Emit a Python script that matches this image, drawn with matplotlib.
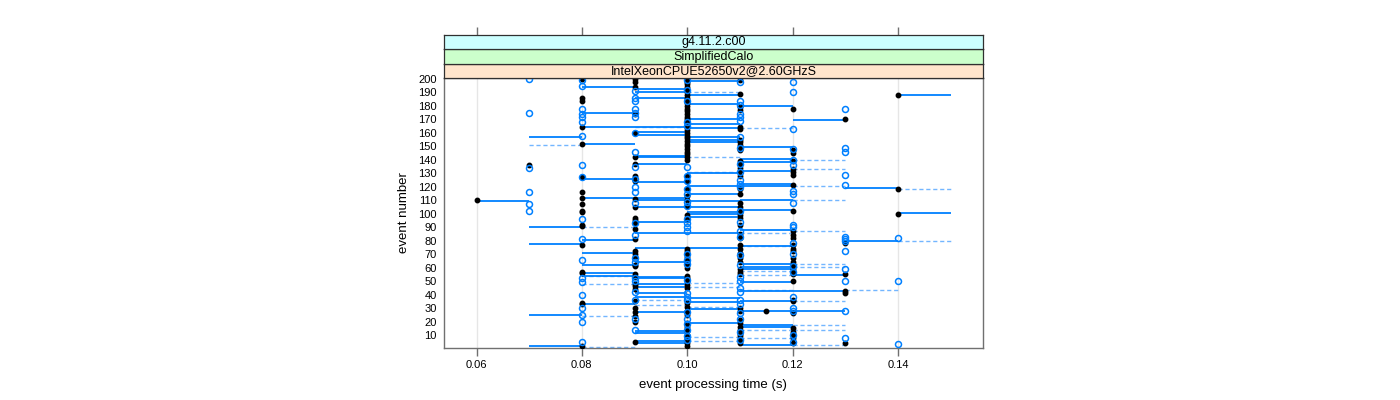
import matplotlib
matplotlib.use('Agg')
import matplotlib.pyplot as plt

plt.rcParams['font.family'] = ['Liberation Sans', 'DejaVu Sans']

# ---------------- data ----------------
x_ticks = [0.06, 0.08, 0.10, 0.12, 0.14]
x_tick_labels = ['0.06', '0.08', '0.10', '0.12', '0.14']
y_ticks = list(range(10, 201, 10))
strip_labels = ['IntelXeonCPUE52650v2@2.60GHzS', 'SimplifiedCalo', 'g4.11.2.c00']
strip_colors = ['#ffe5cc', '#ccffcc', '#ccffff']
x_label = 'event processing time (s)'
y_label = 'event number'

# black filled points: event numbers per processing time
black_006 = [110]
black_007 = [136]
black_008 = [200, 186, 184, 164, 152, 127, 116, 112, 107, 102, 101, 92, 91, 77, 57, 56, 34, 33, 1.5]
black_009 = [200, 198, 194, 174, 160, 142, 137, 128, 124, 111, 105, 97, 95, 93, 89, 81, 72, 70, 68, 62,
             61, 55, 53, 48, 46, 44, 35, 30, 27, 24, 20, 5]
black_010 = [200, 198, 196, 194, 192, 190, 188, 186, 184, 182, 180, 178, 176, 174, 172, 170, 168, 166,
             164, 162, 160, 158, 156, 154, 152, 150, 148, 146, 144, 142, 140, 128, 124, 118, 113, 110,
             106, 99, 97, 95, 74, 72, 70, 68, 66, 64, 62, 60, 54, 52, 50, 47, 45, 34, 31, 28, 25, 19,
             16, 13, 10, 7, 4, 2]
black_011 = [199, 189, 179, 177, 164, 163, 155, 153, 151, 148, 147, 139, 137, 134, 132, 128, 118, 115,
             108, 105, 101, 99, 97, 92, 85, 82, 77, 74, 71, 67, 64, 59, 57, 55, 30, 28, 21, 19, 16,
             14, 11, 9, 6, 4]
black_0115 = [28]
black_012 = [178, 147, 145, 139, 133, 131, 129, 121, 102, 87, 84, 82, 77, 74, 72, 67, 64, 62, 59, 57,
             55, 50, 36, 35, 26, 15, 12, 10, 8, 4]
black_013 = [170, 78, 55, 43, 41, 4]
black_014 = [188, 118, 100]

# blue open circles: event numbers per processing time
blue_007 = [200, 175, 134, 116, 107, 102]
blue_008 = [199, 195, 178, 174, 172, 168, 158, 136, 127, 96, 81, 66, 52, 49, 40, 30, 25, 20, 5]
blue_009 = [191, 186, 184, 178, 175, 172, 160, 146, 135, 126, 120, 116, 108, 93, 84, 67, 64, 52, 50,
            42, 36, 22, 14]
blue_010 = [199, 192, 184, 168, 165, 135, 128, 124, 118, 115, 109, 106, 96, 93, 90, 87, 70, 66, 63,
            51, 41, 38, 36, 27, 22, 18, 14, 9, 6]
blue_011 = [198, 184, 181, 174, 172, 169, 157, 149, 137, 131, 125, 122, 120, 102, 94, 87, 83, 69, 62,
            53, 50, 45, 42, 36, 33, 26, 22, 12, 6]
blue_012 = [198, 190, 163, 148, 140, 136, 117, 115, 108, 92, 90, 78, 70, 61, 57, 38, 30, 28, 10, 5]
blue_013 = [178, 149, 146, 129, 121, 83, 81, 80, 72, 59, 50, 28, 7.5]
blue_014 = [82, 50, 3]

# solid segments (event numbers) between consecutive time values
solid_006_007 = [109.5]
solid_007_008 = [157, 90.5, 77.5, 24.5, 1.5]
solid_008_009 = [194, 174.5, 152, 126, 112, 80.5, 70.5, 62, 55.7, 54, 33]
solid_008_010 = [164.6]
solid_009_010 = [192.5, 190.6, 185.6, 160.4, 158.4, 143, 141.8, 137, 123.7, 111.4, 110.4, 104.7, 93.6,
                 85.4, 74.3, 64.4, 53, 52, 47.5, 45.8, 40.8, 38.4, 27.2, 12.9, 11.2, 5.5, 3.7]
solid_010_011 = [198.7, 188.1, 181.4, 170.3, 166.6, 163.3, 156.7, 154.9, 153, 130.2, 120.8, 114.6,
                 109.6, 104.7, 101, 99.5, 97.8, 85.4, 74.8, 37.1, 34.7, 29.2, 18.6]
solid_011_012 = [180.2, 149.2, 140.6, 138.6, 131.9, 122, 120.8, 110.4, 102.7, 87.9, 76.3, 62.4, 60.7,
                 58.9, 49.5, 42.6, 35.2, 27.7, 17.3, 16.1, 2.5]
solid_012_013 = [169.5, 54.3, 42.6, 27.7]
solid_013_014 = [118.8, 79.5]
solid_014_015 = [188.3, 100.5]

# dashed segments
dashed_007_008 = [151.2]
dashed_008_009 = [90.4, 53.7, 47.5, 24.3, 1.3]
dashed_009_010 = [164, 35.9, 32.2]
dashed_010_011 = [190.1, 141.8, 131.1, 48.3, 45.8, 31, 8.7, 5.5]
dashed_011_012 = [163.3, 85.9, 76, 57.4, 54.5, 43.3, 14, 7.5]
dashed_012_013 = [140, 133.1, 120.5, 110.4, 87.1, 62.4, 60.7, 35.2, 17.3, 13.6, 2.5]
dashed_013_014 = [43.6]
dashed_014_015 = [118.5, 79.5]

black_sets = [(0.06, black_006), (0.07, black_007), (0.08, black_008), (0.09, black_009),
              (0.10, black_010), (0.11, black_011), (0.115, black_0115), (0.12, black_012),
              (0.13, black_013), (0.14, black_014)]
blue_sets = [(0.07, blue_007), (0.08, blue_008), (0.09, blue_009), (0.10, blue_010),
             (0.11, blue_011), (0.12, blue_012), (0.13, blue_013), (0.14, blue_014)]
solid_sets = [(0.06, 0.07, solid_006_007), (0.07, 0.08, solid_007_008), (0.08, 0.09, solid_008_009),
              (0.08, 0.10, solid_008_010), (0.09, 0.10, solid_009_010), (0.10, 0.11, solid_010_011),
              (0.11, 0.12, solid_011_012), (0.12, 0.13, solid_012_013), (0.13, 0.14, solid_013_014),
              (0.14, 0.15, solid_014_015)]
dashed_sets = [(0.07, 0.08, dashed_007_008), (0.08, 0.09, dashed_008_009), (0.09, 0.10, dashed_009_010),
               (0.10, 0.11, dashed_010_011), (0.11, 0.12, dashed_011_012), (0.12, 0.13, dashed_012_013),
               (0.13, 0.14, dashed_013_014), (0.14, 0.15, dashed_014_015)]

# ---------------- figure ----------------
W, H = 1400, 400
fig = plt.figure(figsize=(W / 100, H / 100), dpi=100)

left, right = 443.5 / W, 983.3 / W
bottom, top = 1 - 347.8 / H, 1 - 78.3 / H
ax = fig.add_axes([left, bottom, right - left, top - bottom])

xlim = (0.05373, 0.15621)
ylim = (0.5, 200.5)
ax.set_xlim(*xlim)
ax.set_ylim(*ylim)

blue = '#0080ff'
for xt in x_ticks:
    ax.axvline(xt, color='#e6e6e6', lw=1.0, zorder=0)

for x0, x1, evs in dashed_sets:
    ax.hlines(evs, x0, x1, colors='#5aa9ff', linestyles=(0, (3, 2)), lw=1.0, alpha=0.85, zorder=1)
for x0, x1, evs in solid_sets:
    ax.hlines(evs, x0, x1, colors=blue, lw=1.3, zorder=2)

for xv, evs in black_sets:
    ax.plot([xv] * len(evs), evs, 'o', ms=3.2, color='black', mec='black', zorder=3, ls='none')
for xv, evs in blue_sets:
    ax.plot([xv] * len(evs), evs, 'o', ms=4.3, mfc='none', mec=blue, mew=1.1, zorder=4, ls='none')

frame_col = '#707070'
for s in ax.spines.values():
    s.set_color(frame_col)
    s.set_linewidth(1.0)

ax.set_xticks(x_ticks)
ax.set_xticklabels(x_tick_labels)
ax.set_yticks(y_ticks)
ax.set_yticklabels([str(v) for v in y_ticks])
ax.tick_params(axis='x', direction='out', length=6, width=1, color=frame_col, labelsize=8, pad=3)
ax.tick_params(axis='y', direction='out', length=0, labelsize=8, pad=5)
ax.set_xlabel(x_label, fontsize=9.5, labelpad=6)
ax.set_ylabel(y_label, fontsize=9.5, labelpad=6)

# strips
strip_h = (78.3 - 35.0) / 3 / H
for i, (lab, col) in enumerate(zip(strip_labels, strip_colors)):
    sax = fig.add_axes([left, top + i * strip_h, right - left, strip_h], sharex=ax)
    sax.set_facecolor(col)
    sax.set_ylim(0, 1)
    sax.text(0.5, 0.5, lab, transform=sax.transAxes, ha='center', va='center', fontsize=9)
    sax.set_yticks([])
    for s in sax.spines.values():
        s.set_color('#303030')
        s.set_linewidth(0.9)
    if i == len(strip_labels) - 1:
        sax.tick_params(axis='x', which='both', top=True, bottom=False, labeltop=False,
                        labelbottom=False, direction='out', length=6, width=1, color=frame_col)
    else:
        sax.tick_params(axis='x', which='both', top=False, bottom=False, labeltop=False,
                        labelbottom=False)
ax.set_xlim(*xlim)

fig.savefig('out.png', dpi=100)
